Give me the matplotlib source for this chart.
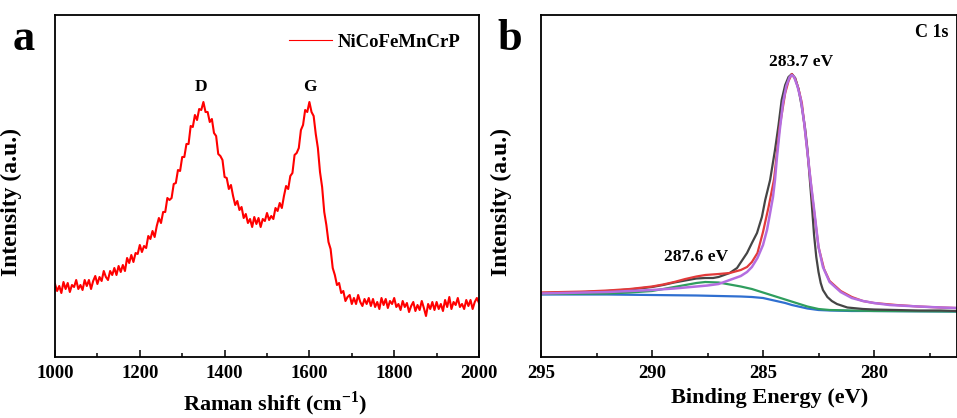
import numpy as np
import matplotlib
matplotlib.use("Agg")
import matplotlib.pyplot as plt
from matplotlib.ticker import MultipleLocator

plt.rcParams['font.family'] = ['Liberation Serif', 'DejaVu Serif']
plt.rcParams['font.weight'] = 'bold'
plt.rcParams['mathtext.fontset'] = 'custom'
plt.rcParams['mathtext.rm'] = 'Liberation Serif:bold'
plt.rcParams['mathtext.bf'] = 'Liberation Serif:bold'

# ---- (a) Raman spectrum, 1000-2000 cm-1 every 5 cm-1 ----
raman_shift = np.arange(1000, 2001, 5)
raman_int = [
    73, 66, 71, 64, 75, 68, 74, 65, 72, 70,
    77, 68, 72, 67, 77, 71, 77, 68, 76, 81,
    73, 80, 76, 86, 80, 77, 86, 82, 89, 82,
    91, 85, 92, 86, 99, 94, 102, 95, 104, 103,
    112, 105, 111, 109, 121, 118, 126, 120, 131, 139,
    134, 145, 145, 159, 157, 159, 173, 174, 187, 186,
    200, 200, 213, 213, 231, 230, 242, 237, 248, 247,
    255, 245, 245, 235, 238, 224, 221, 203, 201, 197,
    180, 179, 168, 172, 161, 152, 156, 147, 150, 139,
    143, 134, 138, 130, 140, 133, 139, 130, 138, 136,
    144, 137, 141, 138, 149, 146, 154, 149, 161, 171,
    168, 181, 184, 202, 204, 209, 227, 232, 247, 245,
    255, 245, 241, 223, 209, 185, 170, 145, 132, 115,
    108, 89, 82, 72, 74, 64, 66, 56, 60, 62,
    53, 59, 53, 62, 55, 51, 58, 53, 59, 51,
    58, 50, 55, 48, 59, 52, 58, 49, 56, 53,
    59, 50, 53, 47, 56, 50, 54, 45, 51, 55,
    46, 52, 47, 56, 49, 41, 53, 48, 55, 47,
    55, 48, 53, 46, 57, 50, 60, 48, 55, 52,
    59, 50, 53, 48, 57, 51, 57, 48, 55, 59,
    54,
]
raman_label = 'NiCoFeMnCrP'
band_names = ['D', 'G']
band_pos = [1345, 1600]

# ---- (b) C 1s XPS ----
be_raw = [295, 294, 293, 292, 291, 290, 289.5, 289, 288.5, 288, 287.6, 287.25,
          287, 286.5, 286.17, 285.72, 285.5, 285.27, 285.05, 284.9, 284.68,
          284.46, 284.3, 284.16, 284.0, 283.85, 283.7, 283.55, 283.4, 283.25,
          283.1, 283.0, 282.9, 282.8, 282.7, 282.6, 282.5, 282.4, 282.3, 282.1,
          281.9, 281.67, 281.2, 280.5, 280, 279, 278, 277, 276.3]
int_raw = [64, 64.5, 65, 66, 67.5, 70, 72, 74.5, 76.5, 78.5, 79, 79,
           80, 84, 89, 104, 114, 124, 140, 157, 177,
           207, 232, 257, 272, 280, 283, 279, 268, 250,
           228, 208, 180, 152, 122, 100, 85, 74, 67, 60,
           56, 53, 49.5, 48, 47.5, 47, 46.5, 46.5, 46]

be_env = [295, 294, 293, 292, 291, 290, 289.5, 289, 288.5, 288, 287.6, 287,
          286.5, 286, 285.72, 285.5, 285.25, 285, 284.75, 284.5, 284.25, 284.0,
          283.85, 283.7, 283.55, 283.4, 283.25, 283.1, 282.9, 282.75, 282.5,
          282.25, 282, 281.5, 281, 280.5, 280, 279, 278, 277, 276.3]
int_env = [64.5, 65, 65.5, 66.5, 68, 70.5, 72.5, 75, 78, 80.5, 82, 83,
           84, 87, 90, 95, 104, 125, 150, 178, 230, 264,
           276, 283, 278, 268, 254, 225, 185, 155, 110,
           88, 76, 66, 60, 56, 54, 52, 50.5, 49.5, 49]

be_c1 = [295, 294, 293, 292, 291, 290, 289, 288.5, 288, 287.5, 287, 286.5,
         286, 285.72, 285.5, 285.25, 285, 284.82, 284.68, 284.55, 284.46,
         284.37, 284.25, 284.1, 283.95, 283.8, 283.7, 283.6, 283.45, 283.3,
         283.15, 283.0, 282.85, 282.7, 282.5, 282.3, 282.0, 281.5, 281, 280.5,
         280, 279.3, 278, 277, 276.3]
int_c1 = [63.5, 64, 64.5, 65, 66, 67, 68.5, 69.5, 70.5, 71.5, 73, 77,
          81, 85, 90, 99, 112, 127, 144, 160, 177,
          200, 226, 254, 271, 280, 282, 280, 271, 258,
          235, 205, 175, 148, 110, 90, 75, 65, 59, 56,
          54, 52, 50.5, 49.5, 49]

be_c2 = [295, 292, 291, 290, 289.5, 289, 288.5, 288, 287.6, 287, 286.5, 286,
         285.5, 285, 284.5, 284, 283.5, 283, 282.5, 282, 281, 280, 276.3]
int_c2 = [63, 63.5, 64.5, 66, 68, 70, 72, 74, 75, 74.5, 72.5, 70.5,
          68, 64.5, 61, 57.5, 54, 50.5, 48, 47, 46.5, 46, 45.5]

be_bg = [295, 292, 290, 288, 287, 286, 285.5, 285, 284.5, 284, 283.7, 283.4,
         283, 282.5, 282, 281, 280, 276.3]
int_bg = [62.5, 62.5, 62, 61.5, 61, 60.5, 60, 59, 56.5, 54, 52, 50.5,
          48.5, 47, 46.5, 46, 46, 45.5]

peak_be = [283.7, 287.6]

fig = plt.figure(figsize=(9.57, 4.18), dpi=100)
ax1 = fig.add_axes([55 / 957, 61 / 418, 424 / 957, 342 / 418])
ax2 = fig.add_axes([541 / 957, 61 / 418, 416 / 957, 342 / 418])

ax1.plot(raman_shift, raman_int, color='#ff0000', lw=1.5, label=raman_label)
ax1.set_xlim(1000, 2000)
ax1.set_ylim(0, 342)
ax1.xaxis.set_major_locator(MultipleLocator(200))
ax1.xaxis.set_minor_locator(MultipleLocator(100))
for name, pos in zip(band_names, band_pos):
    ax1.text(pos, 262, name, ha='center', va='bottom', fontsize=12.5, fontweight='bold')
leg = ax1.legend(loc='upper right', frameon=False, handlelength=2.3, handletextpad=0.3,
                 bbox_to_anchor=(0.995, 0.995), prop={'size': 13.5, 'weight': 'bold'})
leg.get_lines()[0].set_linewidth(0.8)
ax1.set_xlabel(r'Raman shift (cm$^{-1}$)', fontsize=16, fontweight='bold')

ax2.plot(be_bg, int_bg, color='#2f6fd0', lw=1.6)
ax2.plot(be_c2, int_c2, color='#2f9e5e', lw=1.6)
ax2.plot(be_raw, int_raw, color='#454545', lw=1.6)
ax2.plot(be_env, int_env, color='#e23a3a', lw=1.6)
ax2.plot(be_c1, int_c1, color='#b46ee0', lw=1.8)
ax2.set_xlim(295, 295 - 416 / 111 * 5)
ax2.set_ylim(0, 342)
ax2.xaxis.set_major_locator(MultipleLocator(5))
ax2.xaxis.set_minor_locator(MultipleLocator(2.5))
ax2.text(283.3, 287, f'{peak_be[0]} eV', ha='center', va='bottom', fontsize=12.5, fontweight='bold')
ax2.text(288.0, 92, f'{peak_be[1]} eV', ha='center', va='bottom', fontsize=12.5, fontweight='bold')
ax2.text(0.98, 0.95, 'C 1s', transform=ax2.transAxes, ha='right', va='center',
         fontsize=13, fontweight='bold')
ax2.set_xlabel('Binding Energy (eV)', fontsize=16, fontweight='bold')

for ax in (ax1, ax2):
    ax.set_yticks([])
    ax.set_ylabel('Intensity (a.u.)', fontsize=17, fontweight='bold')
    ax.tick_params(axis='x', which='major', direction='in', length=5, width=1.1,
                   labelsize=13.5, pad=6)
    ax.tick_params(axis='x', which='minor', direction='in', length=3, width=1.1)
    for lab in ax.get_xticklabels():
        lab.set_fontweight('bold')
    for sp in ax.spines.values():
        sp.set_linewidth(1.3)

ax1.yaxis.set_label_coords(-0.078, 0.453)
ax2.yaxis.set_label_coords(-0.070, 0.453)
ax1.xaxis.set_label_coords(0.52, -0.095)
ax2.xaxis.set_label_coords(0.55, -0.09)

fig.text(24 / 957, 1 - 50 / 418, 'a', fontsize=32, fontweight='bold', ha='center', va='baseline')
fig.text(510 / 957, 1 - 50 / 418, 'b', fontsize=32, fontweight='bold', ha='center', va='baseline')

fig.savefig('out.png', dpi=100)
